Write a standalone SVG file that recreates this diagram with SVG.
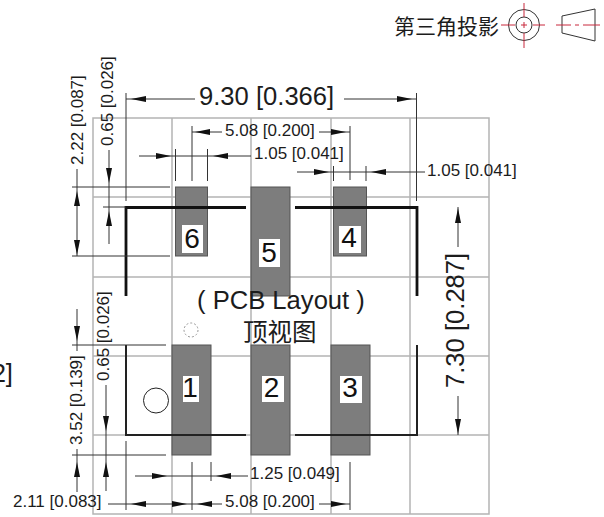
<svg xmlns="http://www.w3.org/2000/svg" width="604" height="517" viewBox="0 0 604 517">
<style>
text{font-family:"Liberation Sans",Arial,sans-serif;fill:#1c1c1c}
.cjk{font-family:"Noto Sans CJK SC","Liberation Sans",sans-serif}
.s{font-size:17px}.b{font-size:25.6px}.n{font-size:28px;text-anchor:middle;fill:#111}
.g{stroke:#b4b4b4;stroke-width:1.5;fill:none}
.pad{fill:#7d7d7d;stroke:#555;stroke-width:1}
.lb{fill:#fff}
.o{stroke:#111;stroke-width:2.800;fill:none}
.o2{stroke:#222;stroke-width:2;fill:none}
.d{stroke:#333;stroke-width:1;fill:none}
.r{stroke:#c8283c;stroke-width:1;fill:none}
.ah{fill:#111}
</style>
<defs><path id="ar" class="ah" d="M0 0L-15 -3L-15 3Z"/></defs>
<rect width="604" height="517" fill="#fff"/>
<g id="grid" class="g">
<path d="M93 118H489V514H93ZM172 118V514M251 118V514M331 118V514M410 118V514M93 197H489M93 277H489M93 356H489M93 435H489"/>
</g>
<g id="pad-6"><rect class="pad" x="175.500" y="187" width="32" height="69"/></g>
<g id="pad-5"><rect class="pad" x="251" y="187" width="39" height="109"/></g>
<g id="pad-4"><rect class="pad" x="333.500" y="187" width="33" height="69"/></g>
<g id="pad-1"><rect class="pad" x="172" y="345" width="39" height="110"/></g>
<g id="pad-2"><rect class="pad" x="251" y="345" width="39" height="110"/></g>
<g id="pad-3"><rect class="pad" x="331" y="345" width="39" height="110"/></g>
<g id="outline">
<path class="o" d="M126 296V207.500H246M295 207.500H417V296"/>
<path class="o2" d="M126 345V435H246M295 435H417V345"/>
</g>
<g id="pin1-mark" fill="none">
<circle cx="156" cy="400.500" r="12.500" stroke="#222" stroke-width="1"/>
<circle cx="191" cy="330" r="7" stroke="#999" stroke-width="1" stroke-dasharray="2 2"/>
</g>
<g id="labels">
<rect class="lb" x="182" y="225" width="21" height="28"/><text class="n" x="192" y="248">6</text>
<rect class="lb" x="259" y="239" width="21" height="28"/><text class="n" x="269" y="262">5</text>
<rect class="lb" x="339" y="226" width="22" height="27"/><text class="n" x="349" y="247">4</text>
<rect class="lb" x="183" y="376" width="16" height="26"/><text class="n" x="190" y="397">1</text>
<rect class="lb" x="262" y="376" width="22" height="26"/><text class="n" x="271.500" y="397">2</text>
<rect class="lb" x="340" y="376" width="22" height="27"/><text class="n" x="350" y="397">3</text>
</g>
<g id="connectors" class="d">
<path d="M126 93V201M416.500 93V201M126 99H195M344 99H416"/>
<path d="M192 126V181M350 126V180M192 132H222M319 132H350"/>
<path d="M175.500 149V181M207.500 149V181M139 156H251"/>
<path d="M333.500 166V181M366 166V181M297 172H425"/>
<path d="M72 187H170M72 256H170M77 169V256"/>
<path d="M103 207H126M109 150V244"/>
<path d="M72 345H166M72 455H166M77 309V351M77 449V492"/>
<path d="M106 385V491M126 441V510"/>
<path d="M108 504H222M192 462V510M319 504H350M350 462V510"/>
<path d="M135 476H248M211 462V481"/>
<path d="M458 207V247M458 396V435"/>
</g>
<g id="arrowheads">
<use href="#ar" transform="translate(131 99) rotate(180)"/>
<use href="#ar" transform="translate(412 99)"/>
<use href="#ar" transform="translate(195 132) rotate(180)"/>
<use href="#ar" transform="translate(346 132)"/>
<use href="#ar" transform="translate(171 156)"/>
<use href="#ar" transform="translate(213 156) rotate(180)"/>
<use href="#ar" transform="translate(329 172)"/>
<use href="#ar" transform="translate(371 172) rotate(180)"/>
<use href="#ar" transform="translate(77 191) rotate(-90)"/>
<use href="#ar" transform="translate(77 255) rotate(90)"/>
<use href="#ar" transform="translate(109 183) rotate(90)"/>
<use href="#ar" transform="translate(109 211) rotate(-90)"/>
<use href="#ar" transform="translate(77 341) rotate(90)"/>
<use href="#ar" transform="translate(77 462) rotate(-90)"/>
<use href="#ar" transform="translate(106 431) rotate(90)"/>
<use href="#ar" transform="translate(106 462) rotate(-90)"/>
<use href="#ar" transform="translate(131 504) rotate(180)"/>
<use href="#ar" transform="translate(187 504)"/>
<use href="#ar" transform="translate(197 504) rotate(180)"/>
<use href="#ar" transform="translate(346 504)"/>
<use href="#ar" transform="translate(167 476)"/>
<use href="#ar" transform="translate(216 476) rotate(180)"/>
<use href="#ar" transform="translate(458 208) rotate(-90)"/>
<use href="#ar" transform="translate(458 434) rotate(90)"/>
</g>
<g id="dimension-text">
<text class="b" x="199" y="105">9.30 [0.366]</text>
<text class="s" x="225" y="136">5.08 [0.200]</text>
<text class="s" x="254" y="159">1.05 [0.041]</text>
<text class="s" x="427" y="176">1.05 [0.041]</text>
<text class="s" transform="translate(83 165) rotate(-90)">2.22 [0.087]</text>
<text class="s" transform="translate(113 146) rotate(-90)">0.65 [0.026]</text>
<text class="s" transform="translate(109 381) rotate(-90)">0.65 [0.026]</text>
<text class="s" transform="translate(82 445) rotate(-90)">3.52 [0.139]</text>
<text class="s" x="13" y="507">2.11 [0.083]</text>
<text class="s" x="225" y="507">5.08 [0.200]</text>
<text class="s" x="250" y="479">1.25 [0.049]</text>
<text class="b" transform="translate(464 388) rotate(-90)">7.30 [0.287]</text>
<text class="b" x="13" y="382" text-anchor="end">2]</text>
<text class="b" x="197" y="309">( PCB Layout )</text>
<text class="cjk" x="243" y="341" font-size="24.500">顶视图</text>
</g>
<g id="projection-symbol">
<text class="cjk" x="394" y="34" font-size="21">第三角投影</text>
<circle cx="524" cy="25" r="15.500" fill="none" stroke="#333"/>
<circle cx="524" cy="25" r="8" fill="none" stroke="#333"/>
<path class="r" d="M501 25H515M521 25H527M533 25H545M524 3V17M524 22V28M524 33V48"/>
<path d="M562 16L595 9V41L562 33Z" fill="none" stroke="#333"/>
<path class="r" d="M556 25H571M575 25H579M583 25H600"/>
</g>
</svg>
